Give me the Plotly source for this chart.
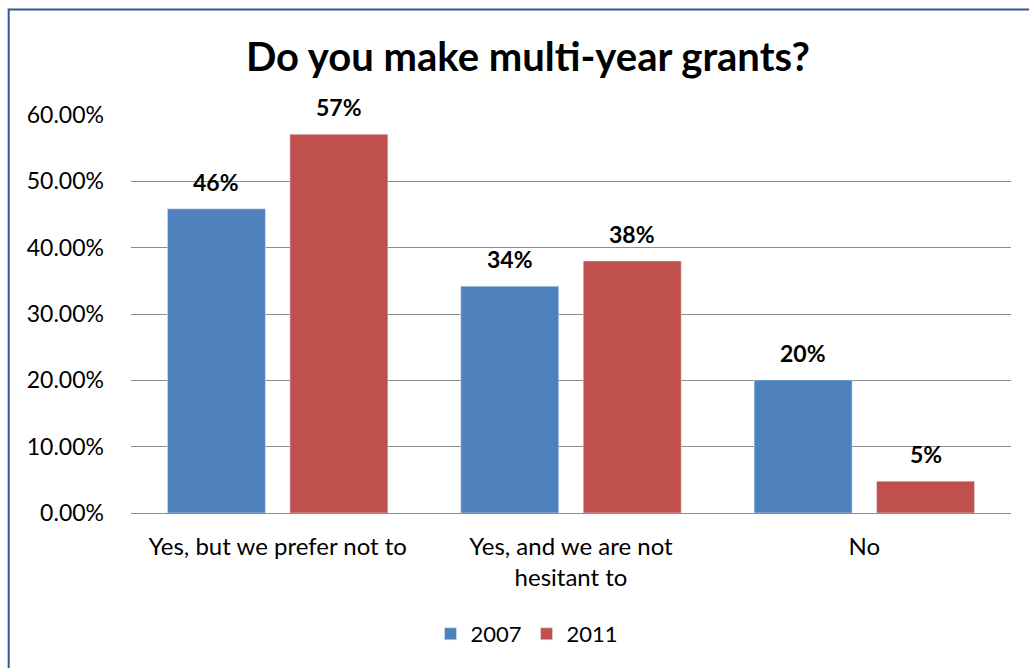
import plotly.graph_objects as go

categories = ["Yes, but we prefer not to", "Yes, and we are not<br>hesitant to", "No"]
series_names = ["2007", "2011"]
values_2007 = [0.4585, 0.342, 0.2006]
values_2011 = [0.571, 0.380, 0.048]
tick_vals = [0, 0.1, 0.2, 0.3, 0.4, 0.5, 0.6]
colors = ["#4F81BD", "#C0504D"]

FONT = "Lato, 'Open Sans', sans-serif"

fig = go.Figure()
for name, vals, col in zip(series_names, [values_2007, values_2011], colors):
    fig.add_trace(go.Bar(x=categories, y=vals, name=name, marker_color=col))

annotations = []
for vals, shift in zip([values_2007, values_2011], [-61.25, 61.25]):
    for c, v in zip(categories, vals):
        annotations.append(dict(
            x=c, y=v, xref="x", yref="y", text=f"<b>{v:.0%}</b>", showarrow=False,
            xshift=shift, yshift=11, yanchor="bottom", xanchor="center",
            font=dict(size=23, color="black", family=FONT)))

fig.update_layout(
    width=1029, height=668,
    paper_bgcolor="white", plot_bgcolor="white",
    margin=dict(l=131, r=18, t=115, b=155),
    font=dict(family=FONT, size=23, color="black"),
    title=dict(text="<b>Do you make multi-year grants?</b>", x=0.513, xanchor="center",
               y=1 - 57 / 668, yanchor="middle", font=dict(size=40, family=FONT, color="black")),
    barmode="group", bargap=0.165, bargroupgap=0.2,
    legend=dict(orientation="h", x=0.45, xanchor="center", y=-0.304, yanchor="middle",
                font=dict(size=22), traceorder="normal"),
    showlegend=True,
    annotations=annotations,
    shapes=[dict(type="rect", xref="paper", yref="paper", x0=-0.139, y0=-0.6, x1=1.5, y1=1.265,
                 line=dict(color="#2E5A94", width=2), fillcolor="rgba(0,0,0,0)", layer="above")],
)
fig.update_yaxes(range=[0, 0.6], tickvals=tick_vals, tickformat=".2%", showgrid=True,
                 gridcolor="#8C8C8C", gridwidth=1, zeroline=False, showline=False,
                 ticks="", ticklen=0, tickfont=dict(size=23), ticklabelstandoff=26)
fig.update_xaxes(showline=True, linecolor="#8C8C8C", linewidth=1, ticks="",
                 tickfont=dict(size=24), ticklabelstandoff=12)

fig.write_html("out.html", config={"displayModeBar": False},
               post_script="document.body.style.margin='0';document.body.style.overflow='hidden';")
